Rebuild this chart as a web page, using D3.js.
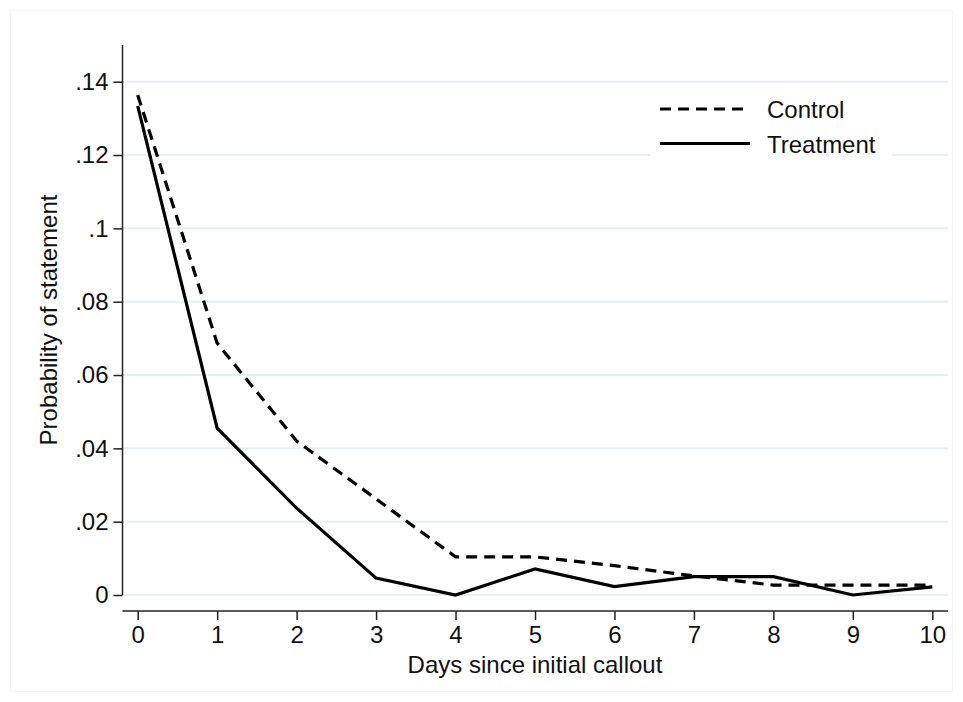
<!DOCTYPE html>
<html>
<head>
<meta charset="utf-8">
<script src="https://cdn.jsdelivr.net/npm/d3@7"></script>
<style>
  body { margin: 0; background: #fff; }
  svg { display: block; font-family: "Liberation Sans", Arial, sans-serif; }
</style>
</head>
<body>
<div id="chart"></div>
<script>
// ---- datos ----
const days = [0, 1, 2, 3, 4, 5, 6, 7, 8, 9, 10];
const control = [0.1364, 0.0687, 0.0420, 0.0262, 0.0104, 0.0104, 0.0080, 0.0052, 0.0027, 0.0027, 0.0027];
const treatment = [0.1334, 0.0455, 0.0237, 0.0046, 0.0000, 0.0071, 0.0023, 0.0050, 0.0050, 0.0000, 0.0022];
const yTicks = [0, 0.02, 0.04, 0.06, 0.08, 0.1, 0.12, 0.14];
const yTickLabels = ['0', '.02', '.04', '.06', '.08', '.1', '.12', '.14'];
const seriesNames = ['Control', 'Treatment'];

const width = 963, height = 702;
const fontSize = 24;
const dash = '11,7';
const svg = d3.select('#chart').append('svg')
  .attr('width', width)
  .attr('height', height);

// marco exterior tenue
svg.append('rect')
  .attr('x', 10.5).attr('y', 10.5)
  .attr('width', width - 21).attr('height', height - 21)
  .attr('fill', 'none').attr('stroke', '#f6f6f6');

const x = d3.scaleLinear().domain([0, 10]).range([137.7, 932.3]);
const y = d3.scaleLinear().domain([0, 0.14]).range([595, 81.7]);

const plotLeft = 122.5, plotRight = 948;

// rejilla
svg.append('g')
  .selectAll('line')
  .data(yTicks)
  .enter()
  .append('line')
  .attr('x1', plotLeft)
  .attr('x2', plotRight)
  .attr('y1', d => y(d))
  .attr('y2', d => y(d))
  .attr('stroke', '#e9eff1')
  .attr('stroke-width', 2);

// eje Y
const yAxis = d3.axisLeft(y)
  .tickValues(yTicks)
  .tickFormat((d, i) => yTickLabels[i])
  .tickSize(9)
  .tickPadding(5);

const gy = svg.append('g')
  .attr('transform', `translate(${plotLeft},0)`)
  .call(yAxis);
gy.select('.domain').attr('d', `M0,45V${y(0)}`);

// eje X
const xAxis = d3.axisBottom(x)
  .tickValues(days)
  .tickSize(9)
  .tickPadding(6);

const gx = svg.append('g')
  .attr('transform', 'translate(0,611)')
  .call(xAxis);
gx.select('.domain').attr('d', `M${plotLeft},0H${plotRight}`);

[gx, gy].forEach(g => {
  g.selectAll('.domain').attr('stroke', '#222').attr('stroke-width', 1.5);
  g.selectAll('.tick line').attr('stroke', '#222').attr('stroke-width', 1.5);
  g.selectAll('.tick text')
    .attr('fill', '#111')
    .attr('font-size', fontSize)
    .attr('font-family', '"Liberation Sans", Arial, sans-serif');
});

// títulos
svg.append('text')
  .attr('x', (x(0) + x(10)) / 2)
  .attr('y', 673)
  .attr('text-anchor', 'middle')
  .attr('font-size', fontSize)
  .attr('fill', '#111')
  .text('Days since initial callout');

svg.append('text')
  .attr('transform', `translate(57,${(y(0) + 45) / 2}) rotate(-90)`)
  .attr('text-anchor', 'middle')
  .attr('font-size', fontSize)
  .attr('fill', '#111')
  .text('Probability of statement');

// líneas
const line = d3.line()
  .x((d, i) => x(days[i]))
  .y(d => y(d));

svg.append('path')
  .datum(control)
  .attr('d', line)
  .attr('fill', 'none')
  .attr('stroke', '#000')
  .attr('stroke-width', 3.2)
  .attr('stroke-dasharray', dash);

svg.append('path')
  .datum(treatment)
  .attr('d', line)
  .attr('fill', 'none')
  .attr('stroke', '#000')
  .attr('stroke-width', 3.2);

// leyenda
const legend = svg.append('g');
legend.append('rect')
  .attr('x', 650).attr('y', 90)
  .attr('width', 242).attr('height', 72)
  .attr('fill', '#fff');

const legendRows = legend.selectAll('g.row')
  .data(seriesNames)
  .enter()
  .append('g')
  .attr('class', 'row')
  .attr('transform', (d, i) => `translate(0,${109 + i * 34.5})`);

legendRows.append('line')
  .attr('x1', 660).attr('x2', 750)
  .attr('stroke', '#000')
  .attr('stroke-width', 3.2)
  .attr('stroke-dasharray', (d, i) => i === 0 ? dash : null);

legendRows.append('text')
  .attr('x', 767)
  .attr('y', 9)
  .attr('font-size', fontSize)
  .attr('fill', '#111')
  .text(d => d);
</script>
</body>
</html>
